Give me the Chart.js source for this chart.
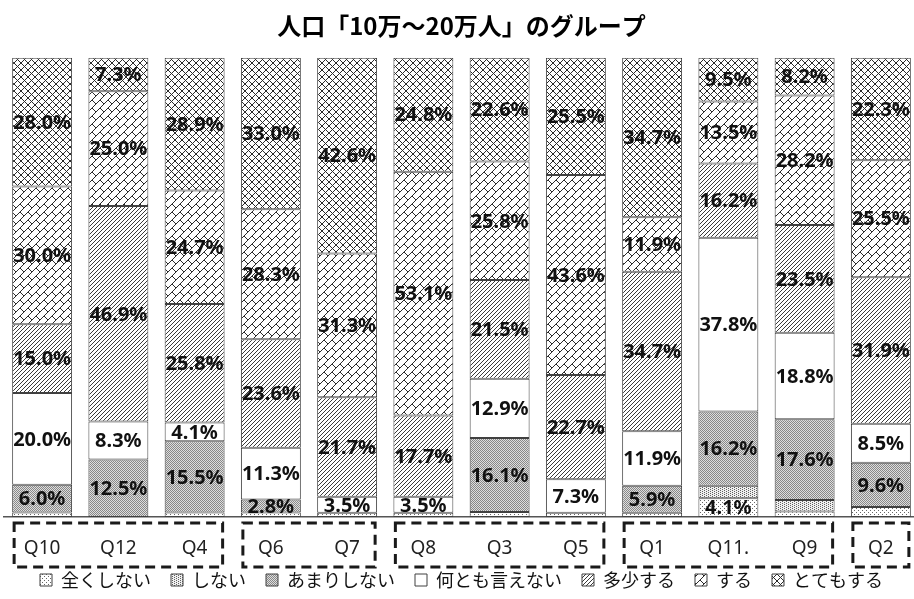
<!DOCTYPE html>
<html lang="ja">
<head>
<meta charset="utf-8">
<title>人口「10万～20万人」のグループ</title>
<script src="https://cdn.jsdelivr.net/npm/chart.js@4.4.1/dist/chart.umd.min.js"></script>
<style>
  html, body { margin: 0; padding: 0; background: #fff; overflow: hidden; }
  #wrap { position: absolute; left: 0; top: 0; width: 920px; height: 599px; }
</style>
</head>
<body>
<div id="wrap"><canvas id="chart" width="920" height="599"></canvas></div>
<script>
// Questions (x axis)
const categories = ['Q10', 'Q12', 'Q4', 'Q6', 'Q7', 'Q8', 'Q3', 'Q5', 'Q1', 'Q11.', 'Q9', 'Q2'];

// Answer shares in percent, one array per answer, bottom of the stack first
const zenkuShinai   = [1.0, 0,    1.0,  1.0,  0.9,  0.9,  1.1,  0.9,  0.9,  4.1,  1.2,  2.2];
const shinai        = [0,   0,    0,    0,    0,    0,    0,    0,    0,    2.7,  2.5,  0];
const amariShinai   = [6.0, 12.5, 15.5, 2.8,  0,    0,    16.1, 0,    5.9,  16.2, 17.6, 9.6];
const nantomo       = [20.0, 8.3, 4.1,  11.3, 3.5,  3.5,  12.9, 7.3,  11.9, 37.8, 18.8, 8.5];
const tashouSuru    = [15.0, 46.9, 25.8, 23.6, 21.7, 17.7, 21.5, 22.7, 34.7, 16.2, 23.5, 31.9];
const suru          = [30.0, 25.0, 24.7, 28.3, 31.3, 53.1, 25.8, 43.6, 11.9, 13.5, 28.2, 25.5];
const totemoSuru    = [28.0, 7.3,  28.9, 33.0, 42.6, 24.8, 22.6, 25.5, 34.7, 9.5,  8.2,  22.3];

const seriesNames = ['全くしない', 'しない', 'あまりしない', '何とも言えない', '多少する', 'する', 'とてもする'];

// Question groups framed with dashed boxes under the axis
const groupStarts = ['Q10', 'Q6', 'Q8', 'Q1', 'Q2'];
const groupEnds   = ['Q4',  'Q7', 'Q5', 'Q9', 'Q2'];

const chartTitle = '人口「10万～20万人」のグループ';

// ---- fill patterns -------------------------------------------------------
function makePattern(w, h, paint) {
  const c = document.createElement('canvas');
  c.width = w; c.height = h;
  const g = c.getContext('2d');
  g.fillStyle = '#ffffff';
  g.fillRect(0, 0, w, h);
  paint(g, w, h);
  return g.createPattern(c, 'repeat');
}
function dot(g, x, y, color) { g.fillStyle = color; g.fillRect(x, y, 1, 1); }

const patSparseDots = makePattern(4, 4, g => {
  dot(g, 0, 0, '#666'); dot(g, 2, 2, '#666');
});
const patMediumDots = makePattern(4, 2, g => {
  g.fillStyle = '#f0f0f0'; g.fillRect(0, 0, 4, 2);
  dot(g, 0, 0, '#606060'); dot(g, 2, 1, '#606060');
});
const patDenseDots = makePattern(2, 2, g => {
  g.fillStyle = '#dedede'; g.fillRect(0, 0, 2, 2);
  dot(g, 0, 0, '#888'); dot(g, 1, 1, '#888');
});
const patDiagonal = makePattern(4, 4, g => {
  for (let i = 0; i < 4; i++) dot(g, 3 - i, i, '#3a3a3a');
});
const patBrick = makePattern(8, 8, g => {
  const rows = [0x01, 0x02, 0x04, 0x08, 0x18, 0x24, 0x42, 0x81];
  rows.forEach((bits, y) => {
    for (let x = 0; x < 8; x++) if (bits & (0x80 >> x)) dot(g, x, y, '#2a2a2a');
  });
});
const patCross = makePattern(7, 7, g => {
  for (let i = 0; i < 7; i++) {
    dot(g, i, i, '#2a2a2a');
    dot(g, 6 - i, i, '#2a2a2a');
  }
});

const seriesData = [zenkuShinai, shinai, amariShinai, nantomo, tashouSuru, suru, totemoSuru];
const seriesFills = [patSparseDots, patMediumDots, patDenseDots, '#ffffff', patDiagonal, patBrick, patCross];

const datasets = seriesNames.map((name, i) => ({
  label: name,
  data: seriesData[i],
  backgroundColor: seriesFills[i],
  borderColor: '#404040',
  borderWidth: 1,
  borderSkipped: false,
  categoryPercentage: 1.0,
  barPercentage: 0.786
}));

// ---- percentage labels inside the segments ------------------------------
const valueLabels = {
  id: 'valueLabels',
  afterDatasetsDraw(chart) {
    const ctx = chart.ctx;
    ctx.save();
    ctx.font = 'bold 20px "Noto Sans", "DejaVu Sans", sans-serif';
    ctx.fillStyle = '#111';
    ctx.textAlign = 'center';
    ctx.textBaseline = 'middle';
    chart.data.datasets.forEach((ds, di) => {
      const meta = chart.getDatasetMeta(di);
      meta.data.forEach((bar, j) => {
        const v = ds.data[j];
        if (v == null || v < 2.8) return;
        const p = bar.getProps(['x', 'y', 'base'], true);
        ctx.fillText(v.toFixed(1) + '%', p.x, (p.y + p.base) / 2 + 1);
      });
    });
    ctx.restore();
  }
};

// ---- let the category labels sit lower, over the legend's top margin ----
const axisLabelRoom = {
  id: 'axisLabelRoom',
  afterLayout(chart) {
    const xs = chart.scales.x;
    xs.bottom += 16;
    xs.height += 16;
  }
};

// ---- dashed frames around question groups -------------------------------
const groupFrames = {
  id: 'groupFrames',
  afterDraw(chart) {
    const ctx = chart.ctx;
    const xs = chart.scales.x;
    const bottom = chart.chartArea.bottom;
    ctx.save();
    ctx.strokeStyle = '#1a1a1a';
    ctx.lineWidth = 3;
    ctx.setLineDash([10, 6]);
    groupStarts.forEach((s, i) => {
      const left = xs.getPixelForValue(categories.indexOf(s)) - 28;
      const right = xs.getPixelForValue(categories.indexOf(groupEnds[i])) + 28;
      ctx.strokeRect(left, bottom + 6, right - left, 44);
    });
    ctx.restore();
  }
};

new Chart(document.getElementById('chart'), {
  type: 'bar',
  data: { labels: categories, datasets },
  plugins: [valueLabels, axisLabelRoom, groupFrames],
  options: {
    responsive: false,
    animation: false,
    layout: { padding: { left: 4, right: 1, top: 0, bottom: 0 } },
    plugins: {
      title: {
        display: true,
        text: chartTitle,
        color: '#000',
        font: { family: '"Noto Sans CJK JP", sans-serif', size: 24, weight: 'bold' },
        padding: { top: 11, bottom: 18 }
      },
      legend: {
        position: 'bottom',
        labels: {
          color: '#111',
          font: { family: '"Noto Sans CJK JP", sans-serif', size: 18 },
          boxWidth: 12,
          boxHeight: 12,
          padding: 20
        }
      },
      tooltip: { enabled: false }
    },
    scales: {
      x: {
        stacked: true,
        grid: { display: false, drawTicks: false, tickLength: 0 },
        border: { display: true, color: '#555', width: 1.5 },
        ticks: {
          color: '#222',
          padding: 20,
          font: { family: '"Noto Sans", sans-serif', size: 19 }
        },
        afterFit(scale) { scale.height = 34; }
      },
      y: {
        stacked: true,
        display: false,
        min: 0,
        max: 100
      }
    }
  }
});
</script>
</body>
</html>
